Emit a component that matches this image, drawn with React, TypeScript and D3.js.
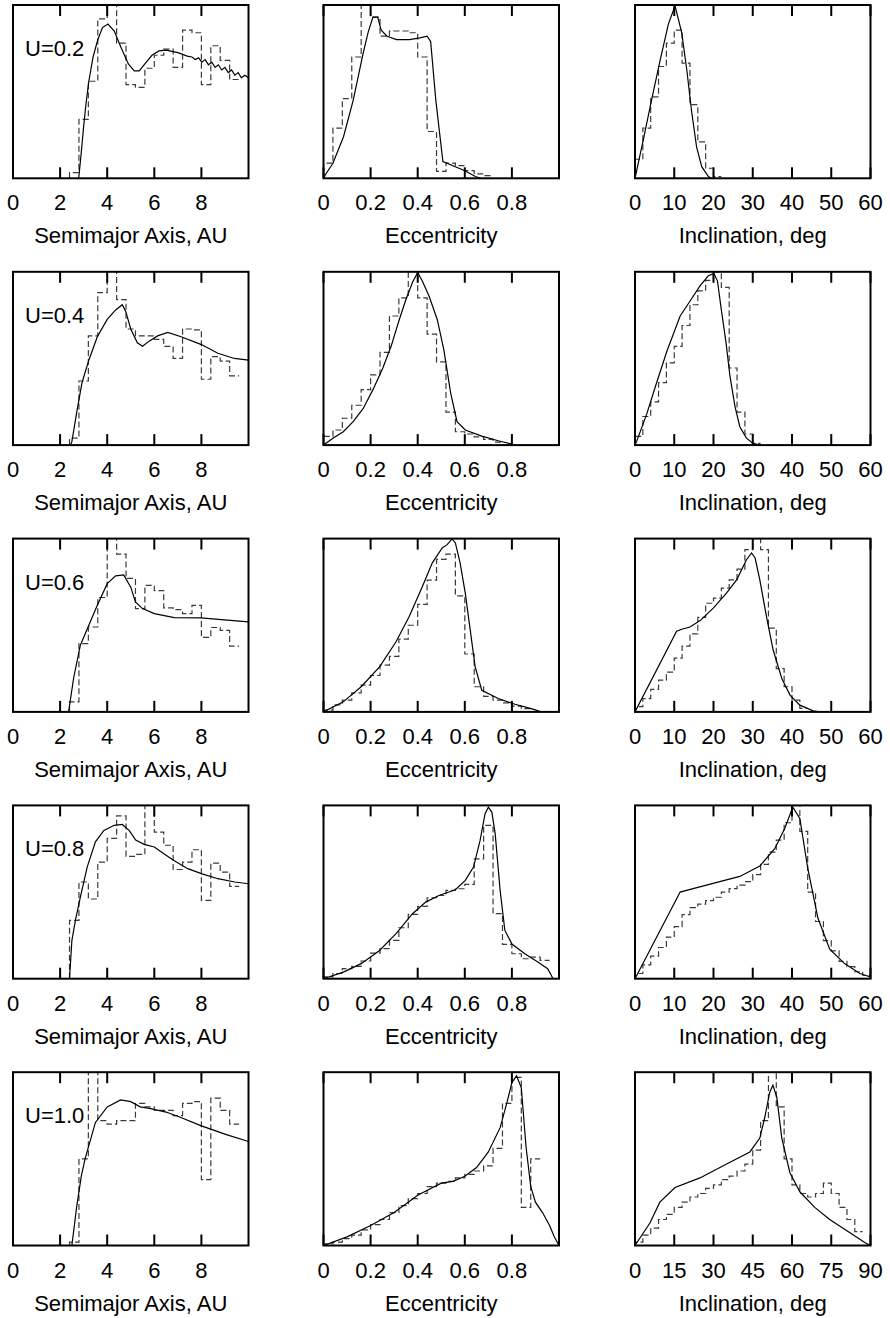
import React from 'react';
import * as d3 from 'd3';

// labels
const uLabels = ['U=0.2', 'U=0.4', 'U=0.6', 'U=0.8', 'U=1.0'];
const titles = ['Semimajor Axis, AU', 'Eccentricity', 'Inclination, deg'];

// axis domains and ticks
const semiDomain = [0, 10];
const semiTicks = [0, 2, 4, 6, 8];
const eccDomain = [0, 1];
const eccTicks = [0, 0.2, 0.4, 0.6, 0.8];
const eccTickLabels = ['0', '0.2', '0.4', '0.6', '0.8'];
const incDomain = [0, 60];
const incTicks = [0, 10, 20, 30, 40, 50, 60];
const incDomainWide = [0, 90];
const incTicksWide = [0, 15, 30, 45, 60, 75, 90];

// histogram bins (start, width)
const semiBins = [2.4, 0.4];
const eccBins = [0, 0.04];
const incBins = [0, 2];
const incBinsWide = [0, 3];

// ---- U = 0.2 ----
const semiCurve02 = [
  [2.79, 0], [2.9, 0.15], [3.0, 0.3], [3.1, 0.43], [3.22, 0.56], [3.4, 0.7], [3.6, 0.8],
  [3.8, 0.87], [4.03, 0.89], [4.3, 0.85], [4.6, 0.75], [4.9, 0.66], [5.15, 0.62], [5.36, 0.62],
  [5.6, 0.66], [5.9, 0.71], [6.2, 0.735], [6.5, 0.74], [7.0, 0.725], [7.4, 0.705], [7.6, 0.7],
  [7.74, 0.685], [7.88, 0.695], [8.02, 0.67], [8.16, 0.685], [8.3, 0.655], [8.44, 0.67],
  [8.58, 0.64], [8.72, 0.655], [8.86, 0.625], [9.0, 0.64], [9.14, 0.61], [9.28, 0.625],
  [9.42, 0.595], [9.56, 0.61], [9.7, 0.58], [9.84, 0.595], [10, 0.58],
];
const semiHist02 = [0.033, 0.34, 0.56, 0.92, 1.05, 0.78, 0.54, 0.525, 0.635, 0.71, 0.745, 0.64, 0.855, 0.84, 0.54, 0.765, 0.68, 0.57];
const eccCurve02 = [
  [0, 0], [0.01, 0.025], [0.04, 0.087], [0.085, 0.24], [0.126, 0.45], [0.168, 0.72], [0.19, 0.845],
  [0.21, 0.93], [0.23, 0.93], [0.245, 0.855], [0.27, 0.82], [0.31, 0.8], [0.365, 0.8], [0.41, 0.81],
  [0.44, 0.82], [0.455, 0.79], [0.477, 0.45], [0.507, 0.096], [0.56, 0.067], [0.6, 0.044],
  [0.645, 0.01], [0.667, 0],
];
const eccHist02 = [0.087, 0.29, 0.46, 0.7, 1.05, 0.93, 0.82, 0.85, 0.85, 0.84, 0.7, 0.27, 0.04, 0.087, 0.073, 0.044, 0.025, 0.015];
const incCurve02 = [
  [0, 0], [2.1, 0.22], [4.2, 0.45], [6.4, 0.68], [8.5, 0.89], [10.2, 0.995], [11.9, 0.84],
  [13.2, 0.625], [14.4, 0.39], [15.7, 0.18], [17, 0.067], [18.7, 0.01], [19.5, 0],
];
const incHist02 = [0.11, 0.29, 0.47, 0.645, 0.78, 0.855, 0.665, 0.425, 0.21, 0.058, 0.01];

// ---- U = 0.4 ----
const semiCurve04 = [
  [2.44, 0], [2.5, 0.02], [2.72, 0.2], [2.93, 0.36], [3.22, 0.49], [3.58, 0.625], [4.0, 0.725],
  [4.36, 0.78], [4.64, 0.81], [4.79, 0.77], [5.0, 0.67], [5.28, 0.59], [5.5, 0.57], [5.78, 0.6],
  [6.14, 0.63], [6.57, 0.65], [7.14, 0.625], [8.0, 0.58], [8.7, 0.53], [9.4, 0.5], [10, 0.49],
];
const semiHist04 = [0.04, 0.37, 0.63, 0.88, 1.05, 0.84, 0.67, 0.63, 0.63, 0.61, 0.57, 0.5, 0.67, 0.665, 0.38, 0.51, 0.485, 0.4];
const eccCurve04 = [
  [0, 0], [0.04, 0.04], [0.084, 0.077], [0.126, 0.135], [0.168, 0.21], [0.21, 0.32], [0.252, 0.445],
  [0.287, 0.57], [0.322, 0.725], [0.35, 0.84], [0.378, 0.94], [0.4, 0.996], [0.42, 0.945],
  [0.448, 0.86], [0.483, 0.725], [0.511, 0.55], [0.54, 0.3], [0.567, 0.135], [0.602, 0.087],
  [0.672, 0.052], [0.742, 0.025], [0.8, 0.006], [0.81, 0],
];
const eccHist04 = [0.05, 0.087, 0.155, 0.23, 0.32, 0.405, 0.535, 0.745, 0.85, 1.02, 0.85, 0.64, 0.48, 0.19, 0.077, 0.064, 0.048, 0.033, 0.017];
const incCurve04 = [
  [0, 0], [0.4, 0.02], [3, 0.18], [5.5, 0.36], [8.1, 0.54], [11.5, 0.745], [14, 0.83], [16.6, 0.92],
  [18.7, 0.977], [20.1, 0.99], [21, 0.948], [22, 0.78], [23.2, 0.59], [24.2, 0.396], [25.5, 0.22],
  [26.7, 0.106], [28.4, 0.04], [30.1, 0.01], [31.8, 0],
];
const incHist04 = [0.05, 0.165, 0.25, 0.36, 0.475, 0.57, 0.69, 0.81, 0.89, 0.95, 1.0, 0.91, 0.445, 0.19, 0.064, 0.01];

// ---- U = 0.6 ----
const semiCurve06 = [
  [2.36, 0], [2.58, 0.2], [2.86, 0.385], [3.22, 0.5], [3.58, 0.615], [4.0, 0.74], [4.36, 0.785],
  [4.7, 0.79], [5.0, 0.72], [5.2, 0.635], [5.5, 0.596], [6.0, 0.567], [6.85, 0.544], [8.0, 0.542],
  [8.84, 0.533], [10, 0.52],
];
const semiHist06 = [0.058, 0.394, 0.49, 0.66, 1.05, 0.91, 0.77, 0.596, 0.73, 0.7, 0.6, 0.59, 0.567, 0.615, 0.43, 0.487, 0.47, 0.38];
const eccCurve06 = [
  [0, 0], [0.084, 0.058], [0.16, 0.145], [0.238, 0.26], [0.308, 0.405], [0.364, 0.55], [0.42, 0.724],
  [0.462, 0.86], [0.504, 0.946], [0.525, 0.965], [0.546, 0.998], [0.56, 0.975], [0.58, 0.86],
  [0.602, 0.685], [0.623, 0.473], [0.644, 0.26], [0.672, 0.125], [0.742, 0.077], [0.813, 0.044],
  [0.882, 0.019], [0.925, 0],
];
const eccHist06 = [0.01, 0.04, 0.068, 0.11, 0.155, 0.21, 0.27, 0.32, 0.42, 0.5, 0.62, 0.76, 0.88, 0.91, 0.67, 0.334, 0.145, 0.09, 0.068, 0.052, 0.033, 0.019];
const incCurve06 = [
  [0, 0], [10.6, 0.465], [11.9, 0.477], [14, 0.49],
  [16.6, 0.527], [20, 0.6], [23.3, 0.685], [25.9, 0.762], [28.4, 0.878], [29.7, 0.917],
  [30.6, 0.888], [31.8, 0.762], [33.5, 0.55], [35.2, 0.357], [37.4, 0.193], [39.5, 0.097],
  [42, 0.039], [45.4, 0.006], [47.1, 0],
];
const incHist06 = [0.03, 0.077, 0.13, 0.183, 0.23, 0.31, 0.38, 0.45, 0.546, 0.627, 0.656, 0.714, 0.762, 0.824, 0.936, 1.05, 0.936, 0.483, 0.25, 0.145, 0.068, 0.02];

// ---- U = 0.8 ----
const semiCurve08 = [
  [2.4, 0], [2.5, 0.22], [2.65, 0.337], [2.86, 0.47], [3.15, 0.644], [3.5, 0.79], [3.86, 0.856],
  [4.3, 0.885], [4.64, 0.89], [4.93, 0.856], [5.21, 0.8], [5.57, 0.775], [6.0, 0.76], [6.42, 0.72],
  [6.85, 0.68], [7.42, 0.635], [8.0, 0.606], [8.7, 0.577], [9.42, 0.558], [10, 0.548],
];
const semiHist08 = [0.337, 0.558, 0.46, 0.673, 0.81, 0.94, 0.706, 0.717, 1.05, 0.846, 0.77, 0.63, 0.673, 0.744, 0.452, 0.667, 0.615, 0.533];
const eccCurve08 = [
  [0, 0], [0.084, 0.038], [0.16, 0.087], [0.238, 0.163], [0.308, 0.26], [0.378, 0.375], [0.434, 0.442],
  [0.49, 0.48], [0.56, 0.513], [0.602, 0.567], [0.637, 0.644], [0.665, 0.798], [0.686, 0.952],
  [0.7, 0.99], [0.715, 0.96], [0.729, 0.837], [0.75, 0.51], [0.77, 0.28], [0.8, 0.2],
  [0.855, 0.144], [0.91, 0.096], [0.952, 0.058], [0.975, 0],
];
const eccHist08 = [0.01, 0.03, 0.058, 0.071, 0.102, 0.148, 0.173, 0.221, 0.294, 0.371, 0.417, 0.467, 0.48, 0.51, 0.519, 0.544, 0.692, 0.885, 0.375, 0.198, 0.144, 0.115, 0.125, 0.106];
const incCurve08 = [
  [0, 0], [11.5, 0.5], [16.5, 0.53], [21.6, 0.56], [26.7, 0.59], [31.8, 0.65], [35.6, 0.75],
  [38.2, 0.87], [40.2, 0.99], [42, 0.925], [44, 0.64], [46.6, 0.35], [49.6, 0.17], [53.4, 0.087],
  [57.3, 0.03], [60, 0.01],
];
const incHist08 = [0.03, 0.08, 0.13, 0.18, 0.24, 0.3, 0.37, 0.41, 0.43, 0.45, 0.47, 0.5, 0.52, 0.54, 0.56, 0.6, 0.66, 0.73, 0.8, 0.9, 1.05, 0.85, 0.5, 0.33, 0.22, 0.16, 0.1, 0.07, 0.04, 0.02];

// ---- U = 1.0 ----
const semiCurve10 = [
  [2.5, 0], [2.7, 0.22], [2.9, 0.4], [3.06, 0.5], [3.5, 0.71], [4.0, 0.8], [4.57, 0.84],
  [5.0, 0.83], [5.4, 0.8], [5.85, 0.79], [6.5, 0.77], [7.1, 0.74], [8.0, 0.69], [9.06, 0.64], [10, 0.6],
];
const semiHist10 = [0.02, 0.5, 1.05, 0.72, 0.7, 0.72, 0.72, 0.82, 0.8, 0.78, 0.78, 0.75, 0.82, 0.83, 0.38, 0.85, 0.78, 0.7];
const eccCurve10 = [
  [0, 0], [0.1, 0.05], [0.2, 0.115], [0.3, 0.19], [0.4, 0.29], [0.5, 0.36], [0.55, 0.37],
  [0.6, 0.4], [0.65, 0.45], [0.7, 0.54], [0.75, 0.68], [0.78, 0.83], [0.8, 0.94], [0.82, 0.98],
  [0.84, 0.91], [0.86, 0.57], [0.88, 0.34], [0.9, 0.25], [0.93, 0.19], [0.96, 0.115], [0.98, 0.05], [1.0, 0],
];
const eccHist10 = [0.01, 0.02, 0.04, 0.06, 0.09, 0.12, 0.15, 0.19, 0.23, 0.27, 0.3, 0.34, 0.36, 0.37, 0.39, 0.41, 0.43, 0.46, 0.56, 0.82, 0.97, 0.22, 0.5];
const incCurve10 = [
  [0, 0], [5.7, 0.13], [9.5, 0.25], [15.3, 0.335], [24.8, 0.39], [36.3, 0.48], [43.9, 0.54],
  [47.7, 0.62], [49.6, 0.74], [51.5, 0.885], [52.7, 0.925], [54.2, 0.855], [56.1, 0.62],
  [59.2, 0.42], [63, 0.31], [68.7, 0.22], [74.4, 0.15], [82, 0.075], [87.8, 0.017], [90, 0],
];
const incHist10 = [0.02, 0.06, 0.1, 0.15, 0.18, 0.22, 0.25, 0.28, 0.3, 0.33, 0.35, 0.38, 0.4, 0.43, 0.47, 0.55, 0.72, 1.05, 0.8, 0.5, 0.35, 0.3, 0.28, 0.3, 0.36, 0.3, 0.22, 0.15, 0.08];

const semiCurves = [semiCurve02, semiCurve04, semiCurve06, semiCurve08, semiCurve10];
const semiHists = [semiHist02, semiHist04, semiHist06, semiHist08, semiHist10];
const eccCurves = [eccCurve02, eccCurve04, eccCurve06, eccCurve08, eccCurve10];
const eccHists = [eccHist02, eccHist04, eccHist06, eccHist08, eccHist10];
const incCurves = [incCurve02, incCurve04, incCurve06, incCurve08, incCurve10];
const incHists = [incHist02, incHist04, incHist06, incHist08, incHist10];

const W = 890;
const H = 1318;
const colX = [13, 323.5, 635];
const rowY = [5, 271.8, 538.6, 805.4, 1072.2];
const pw = 235.5;
const ph = 173.3;
const font = '"Liberation Sans", Arial, Helvetica, sans-serif';
const fs = 22;

const Panel = ({ id, x0, y0, domain, ticks, tickLabels, bins, curve, hist, title, label }) => {
  const x = d3.scaleLinear().domain(domain).range([x0, x0 + pw]);
  const y = d3.scaleLinear().domain([0, 1]).range([y0 + ph, y0]);

  const line = d3.line().x(d => x(d[0])).y(d => y(d[1]));
  const step = d3.line().x(d => x(d[0])).y(d => y(d[1])).curve(d3.curveStepAfter);

  const [start, width] = bins;
  const histPts = [[start, 0]];
  hist.forEach((v, i) => histPts.push([start + i * width, v]));
  histPts.push([start + hist.length * width, hist[hist.length - 1]]);

  return (
    <g>
      <defs>
        <clipPath id={id}>
          <rect x={x0} y={y0} width={pw} height={ph} />
        </clipPath>
      </defs>
      <g clipPath={`url(#${id})`}>
        <path d={step(histPts)} fill="none" stroke="#3a3a3a" strokeWidth={1.2} strokeDasharray="6,3" />
        <path d={line(curve)} fill="none" stroke="#000" strokeWidth={1.2} />
      </g>
      {ticks.map(t => (
        <g key={t}>
          <line x1={x(t)} x2={x(t)} y1={y0} y2={y0 + 11} stroke="#000" strokeWidth={2} />
          <line x1={x(t)} x2={x(t)} y1={y0 + ph} y2={y0 + ph - 11} stroke="#000" strokeWidth={2} />
        </g>
      ))}
      <rect x={x0} y={y0} width={pw} height={ph} fill="none" stroke="#000" strokeWidth={2} />
      {ticks.map((t, i) => (
        <text key={'l' + t} x={x(t)} y={y0 + ph + 32} textAnchor="middle" fontFamily={font} fontSize={fs}>
          {tickLabels[i]}
        </text>
      ))}
      <text x={x0 + pw / 2} y={y0 + ph + 65} textAnchor="middle" fontFamily={font} fontSize={fs}>
        {title}
      </text>
      {label && (
        <text x={x0 + 12} y={y0 + 51} fontFamily={font} fontSize={fs}>
          {label}
        </text>
      )}
    </g>
  );
};

export default function App() {
  return (
    <svg width={W} height={H} style={{ position: 'absolute', left: 0, top: 0, background: '#fff' }}>
      {uLabels.map((u, r) => {
        const wide = r === 4;
        return (
          <g key={u}>
            <Panel id={`a${r}`} x0={colX[0]} y0={rowY[r]} domain={semiDomain} ticks={semiTicks}
              tickLabels={semiTicks.map(String)} bins={semiBins} curve={semiCurves[r]} hist={semiHists[r]}
              title={titles[0]} label={u} />
            <Panel id={`e${r}`} x0={colX[1]} y0={rowY[r]} domain={eccDomain} ticks={eccTicks}
              tickLabels={eccTickLabels} bins={eccBins} curve={eccCurves[r]} hist={eccHists[r]}
              title={titles[1]} />
            <Panel id={`i${r}`} x0={colX[2]} y0={rowY[r]} domain={wide ? incDomainWide : incDomain}
              ticks={wide ? incTicksWide : incTicks}
              tickLabels={(wide ? incTicksWide : incTicks).map(String)}
              bins={wide ? incBinsWide : incBins} curve={incCurves[r]} hist={incHists[r]}
              title={titles[2]} />
          </g>
        );
      })}
    </svg>
  );
}
